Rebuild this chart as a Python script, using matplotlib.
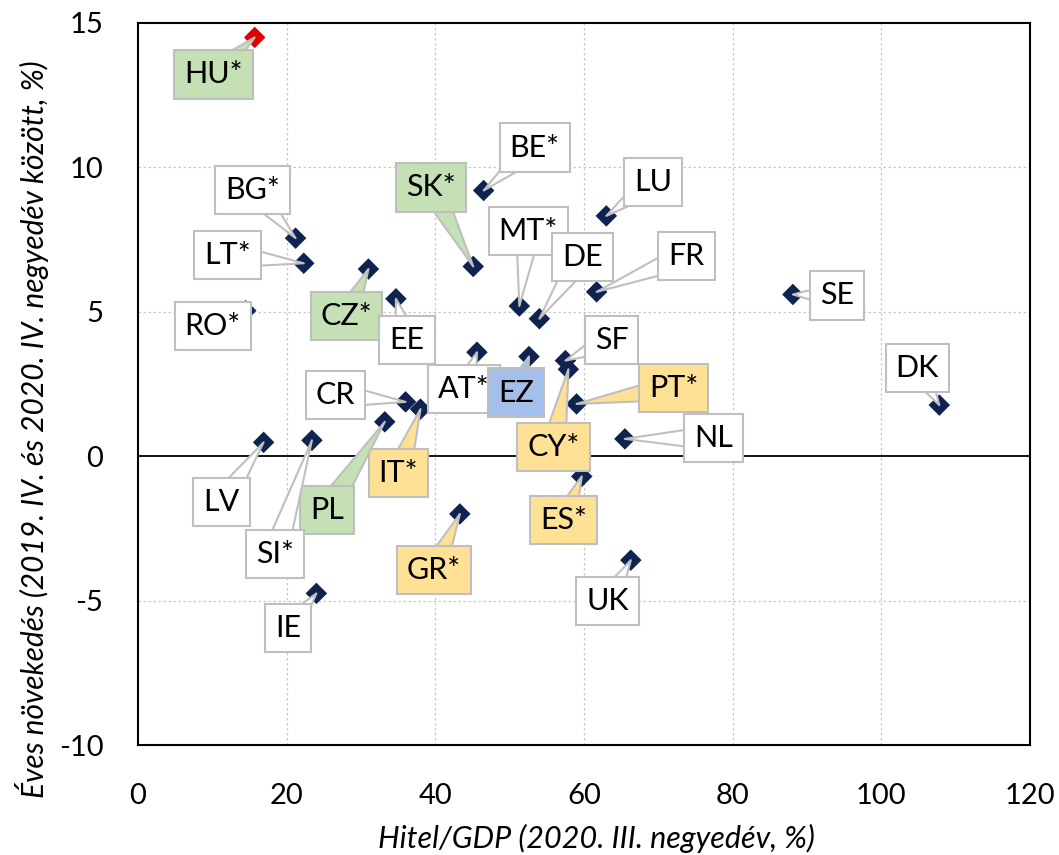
import matplotlib
matplotlib.use("Agg")
import matplotlib.pyplot as plt

# ---- data ----
countries = ["HU*", "BG*", "LT*", "RO*", "SK*", "CZ*", "EE", "BE*", "MT*", "DE",
             "LU", "FR", "SE", "SF", "AT*", "EZ", "CR", "IT*", "PT*", "CY*",
             "NL", "DK", "LV", "PL", "SI*", "ES*", "GR*", "UK", "IE"]
credit_gdp = [15.7, 21.2, 22.3, 14.5, 45.1, 31.0, 34.7, 46.5, 51.3, 54.0,
              63.0, 61.7, 88.1, 57.5, 45.6, 52.6, 36.0, 38.0, 59.0, 57.9,
              65.5, 107.8, 16.9, 33.2, 23.4, 59.7, 43.3, 66.3, 24.0]
growth = [14.5, 7.55, 6.68, 5.04, 6.57, 6.48, 5.45, 9.2, 5.2, 4.76,
          8.32, 5.69, 5.6, 3.31, 3.6, 3.45, 1.88, 1.63, 1.81, 3.01,
          0.6, 1.77, 0.48, 1.19, 0.55, -0.7, -2.0, -3.6, -4.75]
groups = ["green", "white", "white", "white", "green", "green", "white", "white", "white", "white",
          "white", "white", "white", "white", "white", "blue", "white", "orange", "orange", "orange",
          "white", "white", "white", "green", "white", "orange", "orange", "white", "white"]
x_ticks = [0, 20, 40, 60, 80, 100, 120]
y_ticks = [-10, -5, 0, 5, 10, 15]
x_label = "Hitel/GDP (2020. III. negyedév, %)"
y_label = "Éves növekedés (2019. IV. és 2020. IV. negyedév között, %)"

# ---- layout (label offsets in pixels from the point) ----
offsets = {
    "HU*": (-41, -37), "BG*": (-43, 48), "LT*": (-76, 8), "RO*": (-33, -15),
    "SK*": (-42, 79), "CZ*": (-22, -47), "EE": (11, -41), "BE*": (51, 43),
    "MT*": (9, 75), "DE": (43, 62), "LU": (47, 34), "FR": (90, 36),
    "SE": (44, -1), "SF": (46, 21), "AT*": (-13, -37), "EZ": (-13, -36),
    "CR": (-70, 7), "IT*": (-22, -64), "PT*": (97, 16), "CY*": (-15, -78),
    "NL": (89, 1), "DK": (-22, 37), "LV": (-42, -60), "PL": (-58, -88),
    "SI*": (-37, -114), "ES*": (-18, -44), "GR*": (-26, -56), "UK": (-23, -41),
    "IE": (-28, -35),
}
fills = {"white": "#ffffff", "green": "#c5e0b4", "orange": "#ffe196", "blue": "#a5bfeb"}
navy = "#0e2350"
font = ["Lato", "DejaVu Sans"]
plt.rcParams["font.family"] = font
plt.rcParams["axes.unicode_minus"] = False

fig = plt.figure(figsize=(10.59, 8.55), dpi=100)
ax = fig.add_axes([138 / 1059, 1 - 745 / 855, 892 / 1059, 722 / 855])

ax.set_xlim(0, 120)
ax.set_ylim(-10, 15)
ax.set_xticks(x_ticks)
ax.set_yticks(y_ticks)
ax.tick_params(length=0, labelsize=21)
ax.tick_params(axis="x", pad=27)
ax.tick_params(axis="y", pad=25)
for s in ax.spines.values():
    s.set_linewidth(1.5)
    s.set_color("black")

for gx in x_ticks[1:-1]:
    ax.axvline(gx, color="#c8c8c8", lw=0.9, ls=(0, (2, 2)), zorder=0)
for gy in [-5, 5, 10]:
    ax.axhline(gy, color="#c8c8c8", lw=0.9, ls=(0, (2, 2)), zorder=0)
ax.axhline(0, color="black", lw=1.3, zorder=1)

colors = ["#e00000" if c == "HU*" else navy for c in countries]
ax.scatter(credit_gdp, growth, marker="D", s=120, c=colors, zorder=2, linewidths=0)

for c, xv, yv, g in zip(countries, credit_gdp, growth, groups):
    dx, dy = offsets[c]
    ax.annotate(c, xy=(xv, yv), xytext=(dx, dy), textcoords="offset pixels",
                ha="center", va="center", fontsize=22, zorder=4,
                bbox=dict(boxstyle="square,pad=0.33", fc=fills[g], ec="#bfbfbf", lw=1.5),
                arrowprops=dict(arrowstyle="wedge,tail_width=0.8,shrink_factor=0.5",
                                fc=fills[g], ec="#bfbfbf", lw=1.5, patchA=None,
                                shrinkA=0, shrinkB=0))

ax.set_xlabel(x_label, fontsize=22, style="italic")
ax.set_ylabel(y_label, fontsize=21.5, style="italic")
ax.xaxis.set_label_coords((596 - 138) / 892, (745 - 838) / 722)
ax.yaxis.set_label_coords((32 - 138) / 892, (745 - 429) / 722)
ax.xaxis.label.set_va("center")
ax.yaxis.label.set_va("center")

fig.savefig("out.png", dpi=100)
